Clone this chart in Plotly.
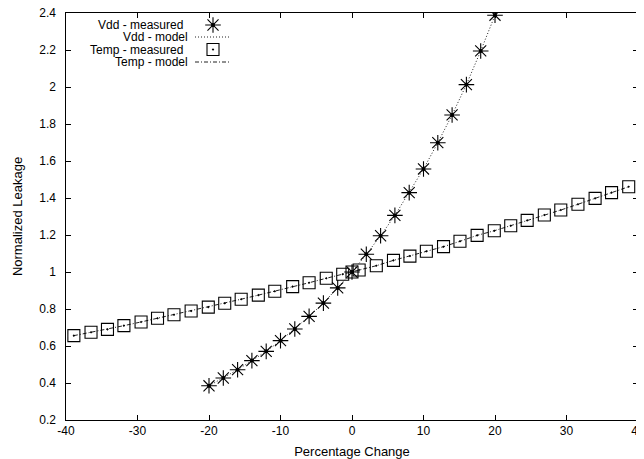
import plotly.graph_objects as go

# ---- data ----
vdd_x = [-20, -18, -16, -14, -12, -10, -8, -6, -4, -2, 0, 2, 4, 6, 8, 10, 12, 14, 16, 18, 20]
vdd_measured = [0.385, 0.427, 0.472, 0.521, 0.571, 0.629, 0.692, 0.760, 0.832, 0.914, 1.0,
                1.096, 1.196, 1.306, 1.429, 1.557, 1.699, 1.849, 2.013, 2.195, 2.388]
vdd_model = list(vdd_measured)

temp_x = [-38.9, -36.5, -34.2, -31.9, -29.5, -27.2, -24.9, -22.5, -20.1, -17.8, -15.5, -13.1,
          -10.8, -8.3, -6.0, -3.6, -1.3, 0.0, 1.0, 3.4, 5.8, 8.1, 10.4, 12.8,
          15.1, 17.5, 19.9, 22.2, 24.5, 26.9, 29.2, 31.6, 34.0, 36.3, 38.7]
temp_measured = [0.656, 0.674, 0.690, 0.710, 0.730, 0.750, 0.769, 0.789, 0.810, 0.831, 0.853, 0.875,
                 0.896, 0.921, 0.942, 0.966, 0.988, 1.0, 1.011, 1.034, 1.063, 1.086, 1.112, 1.137,
                 1.166, 1.198, 1.223, 1.250, 1.279, 1.308, 1.335, 1.366, 1.398, 1.429, 1.461]
temp_model = list(temp_measured)

legend_labels = ["Vdd - measured", "Vdd - model", "Temp - measured", "Temp - model"]

x_ticks = [-40, -30, -20, -10, 0, 10, 20, 30, 40]
x_tick_text = ["-40", "-30", "-20", "-10", "0", "10", "20", "30", "40"]
y_ticks = [0.2, 0.4, 0.6, 0.8, 1.0, 1.2, 1.4, 1.6, 1.8, 2.0, 2.2, 2.4]
y_tick_text = ["0.2", "0.4", "0.6", "0.8", "1", "1.2", "1.4", "1.6", "1.8", "2", "2.2", "2.4"]

X_RANGE = [-40, 40]
Y_RANGE = [0.2, 2.4]

# page layout (the browser body adds an 8px margin)
BODY = 8
W, H = 644 - BODY, 459 - BODY
PLOT_L, PLOT_R, PLOT_T, PLOT_B = 66, 638, 13, 420   # plot box in window pixels
ML = PLOT_L - BODY
MT = PLOT_T - BODY
MR = (W + BODY) - PLOT_R
MB = (H + BODY) - PLOT_B

INK = "#000000"
DOT_DASH = "1px,2px"
DASHDOT = "4px,2px,1px,2px"
FONT = "Liberation Sans, Arial, sans-serif"
NBSP = "\u00a0"


def px_to_x(px):
    return X_RANGE[0] + (px - PLOT_L) / (PLOT_R - PLOT_L) * (X_RANGE[1] - X_RANGE[0])


def py_to_y(py):
    return Y_RANGE[1] - (py - PLOT_T) / (PLOT_B - PLOT_T) * (Y_RANGE[1] - Y_RANGE[0])


fig = go.Figure()

# model lines
fig.add_trace(go.Scatter(x=vdd_x, y=vdd_model, mode="lines",
                         line=dict(color="#222222", width=1, dash=DOT_DASH),
                         showlegend=False, hoverinfo="skip"))
fig.add_trace(go.Scatter(x=temp_x, y=temp_model, mode="lines",
                         line=dict(color="#222222", width=1, dash=DASHDOT),
                         showlegend=False, hoverinfo="skip"))
# measured markers
fig.add_trace(go.Scatter(x=temp_x, y=temp_measured, mode="markers",
                         marker=dict(symbol="square-open-dot", size=12, color=INK,
                                     line=dict(color=INK, width=1.1)),
                         showlegend=False))
fig.add_trace(go.Scatter(x=vdd_x, y=vdd_measured, mode="markers",
                         marker=dict(symbol="asterisk-open", size=13, color=INK,
                                     line=dict(color=INK, width=1.1)),
                         showlegend=False))
fig.add_trace(go.Scatter(x=vdd_x, y=vdd_measured, mode="markers",
                         marker=dict(symbol="circle", size=4, color=INK),
                         showlegend=False, hoverinfo="skip"))

# ---- custom legend: text right-aligned, sample to its right (gnuplot style) ----
rows_py = [25, 37, 49.5, 62]
text_right_px = [184, 189, 184, 189]
sample_px = 213
line_px0, line_px1 = 195, 231

fig.add_trace(go.Scatter(x=[px_to_x(sample_px)], y=[py_to_y(rows_py[0])], mode="markers",
                         marker=dict(symbol="asterisk-open", size=13, color=INK,
                                     line=dict(color=INK, width=1.1)),
                         showlegend=False, hoverinfo="skip", cliponaxis=False))
fig.add_trace(go.Scatter(x=[px_to_x(sample_px)], y=[py_to_y(rows_py[0])], mode="markers",
                         marker=dict(symbol="circle", size=4, color=INK),
                         showlegend=False, hoverinfo="skip", cliponaxis=False))
fig.add_trace(go.Scatter(x=[px_to_x(line_px0), px_to_x(line_px1)],
                         y=[py_to_y(rows_py[1])] * 2, mode="lines",
                         line=dict(color="#222222", width=1, dash=DOT_DASH),
                         showlegend=False, hoverinfo="skip"))
fig.add_trace(go.Scatter(x=[px_to_x(sample_px)], y=[py_to_y(rows_py[2])], mode="markers",
                         marker=dict(symbol="square-open-dot", size=12, color=INK,
                                     line=dict(color=INK, width=1.1)),
                         showlegend=False, hoverinfo="skip", cliponaxis=False))
fig.add_trace(go.Scatter(x=[px_to_x(line_px0), px_to_x(line_px1)],
                         y=[py_to_y(rows_py[3])] * 2, mode="lines",
                         line=dict(color="#222222", width=1, dash=DASHDOT),
                         showlegend=False, hoverinfo="skip"))

annotations = []
for lab, ry, rx in zip(legend_labels, rows_py, text_right_px):
    annotations.append(dict(x=px_to_x(rx), y=py_to_y(ry), xref="x", yref="y",
                            text=lab, showarrow=False, xanchor="right", yanchor="middle",
                            borderpad=0, font=dict(family=FONT, size=12, color=INK)))

fig.update_layout(
    width=W, height=H,
    margin=dict(l=ML, r=MR, t=MT, b=MB, pad=0, autoexpand=False),
    paper_bgcolor="white", plot_bgcolor="white",
    font=dict(family=FONT, size=12, color=INK),
    showlegend=False,
    annotations=annotations,
    xaxis=dict(range=X_RANGE, tickmode="array", tickvals=x_ticks, ticktext=x_tick_text,
               ticks="inside", ticklen=5, tickwidth=1, tickcolor=INK, showline=True,
               linecolor=INK, linewidth=1, mirror="ticks", showgrid=False, zeroline=False,
               ticklabeloverflow="allow", tickfont=dict(size=12), automargin=False,
               title=dict(text="Percentage Change", standoff=12, font=dict(size=13))),
    yaxis=dict(range=Y_RANGE, tickmode="array", tickvals=y_ticks,
               ticktext=[t + NBSP + NBSP for t in y_tick_text],
               ticks="inside", ticklen=5, tickwidth=1, tickcolor=INK, showline=True,
               linecolor=INK, linewidth=1, mirror="ticks", showgrid=False, zeroline=False,
               ticklabeloverflow="allow", tickfont=dict(size=12), automargin=False,
               title=dict(text="Normalized Leakage", standoff=13, font=dict(size=13))),
)

fig.write_html("out.html")
